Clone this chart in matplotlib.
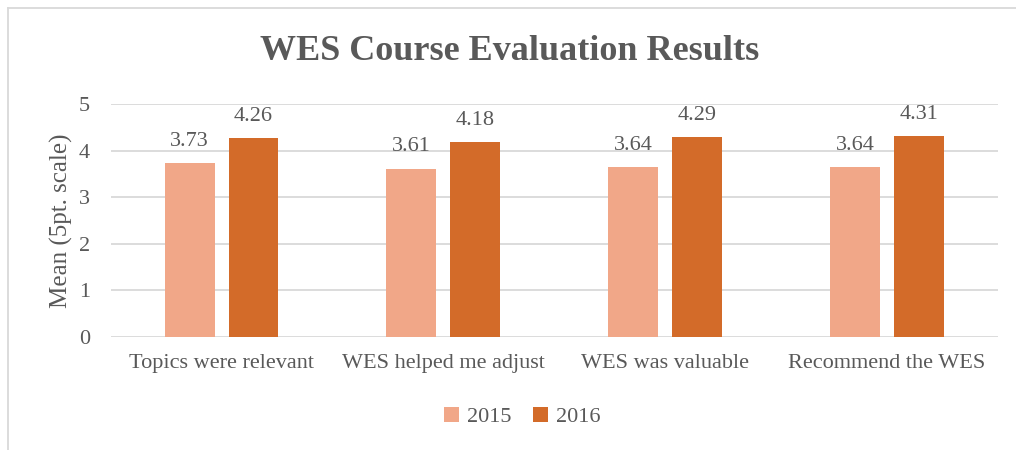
import matplotlib.pyplot as plt
import numpy as np
from matplotlib.lines import Line2D

categories = ['Topics were relevant', 'WES helped me adjust', 'WES was valuable', 'Recommend the WES']
series_names = ['2015', '2016']
values_2015 = [3.73, 3.61, 3.64, 3.64]
values_2016 = [4.26, 4.18, 4.29, 4.31]

plt.rcParams['font.family'] = ['Liberation Serif', 'DejaVu Serif']
txt = '#595959'
c15 = '#F1A788'
c16 = '#D36B29'

fig = plt.figure(figsize=(10.16, 4.5), dpi=100)
ax = fig.add_axes([0.109, 0.251, 0.873, 0.518])

x = np.arange(len(categories))
w = 0.225
off = 0.144
b1 = ax.bar(x - off, values_2015, w, color=c15, label=series_names[0], zorder=3)
b2 = ax.bar(x + off, values_2016, w, color=c16, label=series_names[1], zorder=3)
for bars in (b1, b2):
    ax.bar_label(bars, labels=['%.2f' % b.get_height() for b in bars],
                 padding=9, fontsize=16, color=txt)

ax.set_xlim(-0.5, 3.5)
ax.set_ylim(0, 5)
ax.set_yticks(range(6))
ax.set_xticks(x)
ax.set_xticklabels(categories)
ax.tick_params(axis='both', length=0, labelsize=16, labelcolor=txt)
ax.tick_params(axis='y', pad=15)
ax.tick_params(axis='x', pad=12)
ax.grid(axis='y', color='#D9D9D9', linewidth=1.3, zorder=0)
for s in ax.spines.values():
    s.set_visible(False)
ax.set_ylabel('Mean (5pt. scale)', fontsize=18, color=txt, labelpad=4)

fig.text(0.502, 0.885, 'WES Course Evaluation Results', ha='center', va='center',
         fontsize=26, fontweight='bold', color=txt)

fig.legend(handles=[b1, b2], loc='center', bbox_to_anchor=(0.514, 0.073), ncol=2,
           frameon=False, fontsize=16, labelcolor=txt, handlelength=0.65,
           handleheight=0.65, handletextpad=0.35, columnspacing=1.0)

# chart frame (top and left edges visible)
fig.add_artist(Line2D([0.008, 1.0], [0.982, 0.982], color='#D9D9D9', linewidth=1.3))
fig.add_artist(Line2D([0.008, 0.008], [0.0, 0.982], color='#D9D9D9', linewidth=1.3))

fig.savefig('out.png', dpi=100)
